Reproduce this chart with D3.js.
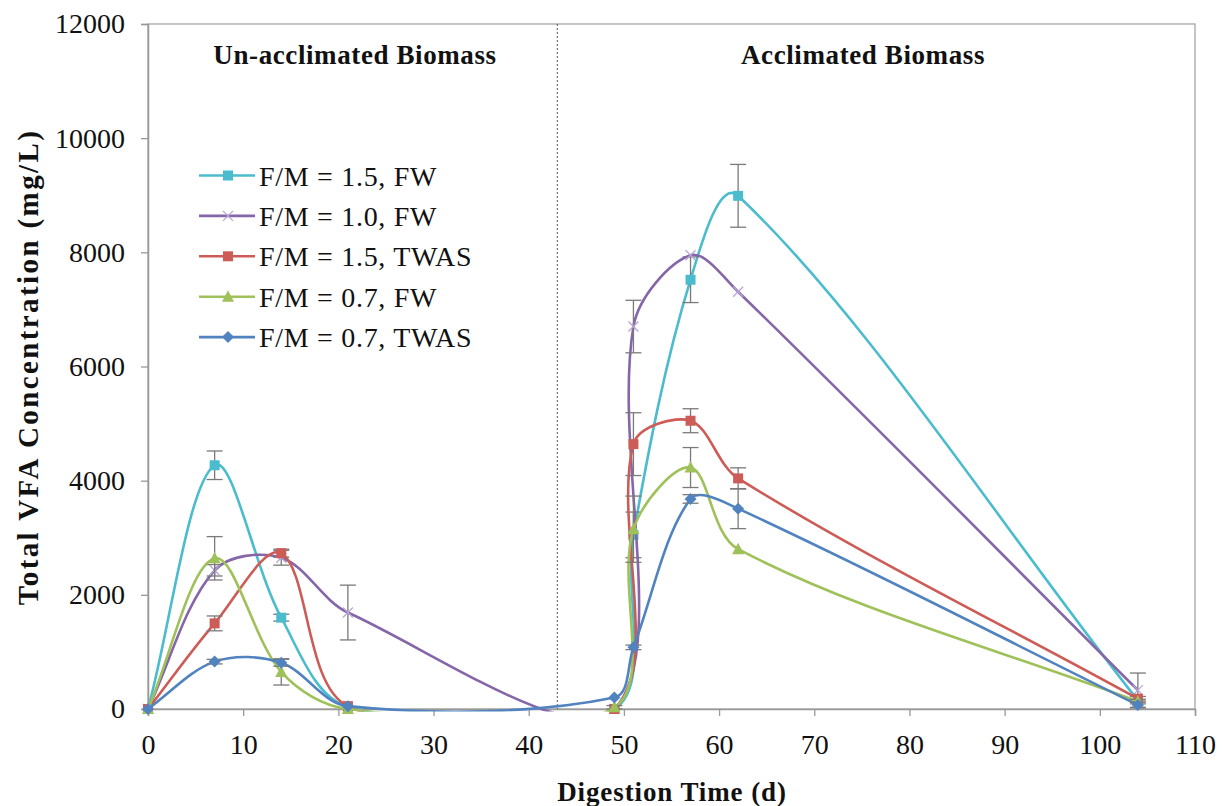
<!DOCTYPE html>
<html>
<head>
<meta charset="utf-8">
<script src="https://cdn.jsdelivr.net/npm/d3@7"></script>
<style>
  html, body { margin: 0; padding: 0; background: #fff; }
  svg { display: block; }
  svg text { font-family: "Liberation Serif", "DejaVu Serif", serif; fill: #111; }
</style>
</head>
<body>
<svg id="chart" width="1222" height="806"></svg>
<script>
// Sampling days (d)
const days = [0, 7, 14, 21, 49, 51, 57, 62, 104];

// Total VFA (mg/L) and standard deviations for each run
const fm15FW      = [0, 4270, 1600, 40, 0, 3050, 7520, 8990, 150];
const fm15FWErr   = [0, 250, 60, 0, 0, 400, 400, 550, 0];
const fm10FW      = [0, 2430, 2650, 1690, 0, 6700, 7950, 7310, 330];
const fm10FWErr   = [0, 100, 130, 480, 0, 460, 0, 0, 300];
const fm15TWAS    = [0, 1500, 2730, 50, 0, 4640, 5050, 4040, 180];
const fm15TWASErr = [0, 130, 70, 0, 0, 550, 210, 185, 40];
const fm07FW      = [0, 2640, 650, 0, 30, 3150, 4230, 2800, 130];
const fm07FWErr   = [0, 380, 230, 0, 30, 580, 350, 0, 40];
const fm07TWAS    = [0, 830, 810, 50, 200, 1080, 3680, 3510, 70];
const fm07TWASErr = [0, 40, 60, 0, 0, 40, 75, 350, 50];

const seriesNames = ["F/M = 1.5, FW", "F/M = 1.0, FW", "F/M = 1.5, TWAS", "F/M = 0.7, FW", "F/M = 0.7, TWAS"];
const xTicks = [0, 10, 20, 30, 40, 50, 60, 70, 80, 90, 100, 110];
const yTicks = [0, 2000, 4000, 6000, 8000, 10000, 12000];
const phaseBoundary = 43;
const phaseTitles = ["Un-acclimated Biomass", "Acclimated Biomass"];

const series = [
  { name: seriesNames[0], y: fm15FW,   e: fm15FWErr,   color: "#4bbccd", mark: "square" },
  { name: seriesNames[1], y: fm10FW,   e: fm10FWErr,   color: "#8566a8", mark: "cross" },
  { name: seriesNames[2], y: fm15TWAS, e: fm15TWASErr, color: "#cd5c57", mark: "square" },
  { name: seriesNames[3], y: fm07FW,   e: fm07FWErr,   color: "#9fc15a", mark: "triangle" },
  { name: seriesNames[4], y: fm07TWAS, e: fm07TWASErr, color: "#5083c0", mark: "diamond" }
];

const svg = d3.select("#chart");
const plotLeft = 148, plotRight = 1195, plotTop = 24, plotBottom = 709;

const x = d3.scaleLinear().domain([0, 110]).range([plotLeft, plotRight]);
const y = d3.scaleLinear().domain([0, 12000]).range([plotBottom, plotTop]);

svg.append("defs").append("clipPath").attr("id", "plotClip")
  .append("rect").attr("x", plotLeft).attr("y", plotTop)
  .attr("width", plotRight - plotLeft).attr("height", plotBottom - plotTop + 2.5);

// plot frame
svg.append("rect")
  .attr("x", plotLeft).attr("y", plotTop)
  .attr("width", plotRight - plotLeft).attr("height", plotBottom - plotTop)
  .attr("fill", "none").attr("stroke", "#a6a6a6").attr("stroke-width", 1.3);

// axes
const xAxis = svg.append("g").attr("transform", `translate(0,${plotBottom})`)
  .call(d3.axisBottom(x).tickValues(xTicks).tickSize(7).tickPadding(18).tickFormat(d3.format("d")));
const yAxis = svg.append("g").attr("transform", `translate(${plotLeft},0)`)
  .call(d3.axisLeft(y).tickValues(yTicks).tickSize(7).tickPadding(16).tickFormat(d3.format("d")));
[xAxis, yAxis].forEach(g => {
  g.attr("font-family", null).attr("font-size", null);
  g.select(".domain").attr("stroke", "#999").attr("stroke-width", 1.5);
  g.selectAll(".tick line").attr("stroke", "#999").attr("stroke-width", 1.3);
  g.selectAll(".tick text").attr("font-size", 28).attr("fill", "#111");
});
xAxis.selectAll(".tick text").attr("dy", "0.71em");

// phase separator
svg.append("line")
  .attr("x1", x(phaseBoundary)).attr("x2", x(phaseBoundary))
  .attr("y1", plotTop).attr("y2", plotBottom)
  .attr("stroke", "#555").attr("stroke-width", 1).attr("stroke-dasharray", "2,2");

// phase titles
svg.append("text").attr("x", 355).attr("y", 64).attr("text-anchor", "middle")
  .attr("font-size", 27).attr("font-weight", "bold").attr("letter-spacing", 0.6).text(phaseTitles[0]);
svg.append("text").attr("x", 863).attr("y", 64).attr("text-anchor", "middle")
  .attr("font-size", 27).attr("font-weight", "bold").attr("letter-spacing", 0.6).text(phaseTitles[1]);

// axis titles
svg.append("text").attr("x", 672).attr("y", 801).attr("text-anchor", "middle")
  .attr("font-size", 27).attr("font-weight", "bold").attr("letter-spacing", 0.9).text("Digestion Time (d)");
svg.append("text").attr("transform", `translate(38,367) rotate(-90)`)
  .attr("text-anchor", "middle").attr("font-size", 29).attr("font-weight", "bold")
  .attr("letter-spacing", 2.4).text("Total VFA Concentration (mg/L)");

// smoothed line: cubic Bezier segments whose handles follow the neighbouring
// points, scaled by the relative chord lengths (spreadsheet-style smoothing)
function smoothPath(pts) {
  const p = d3.path();
  if (!pts.length) return "";
  p.moveTo(pts[0][0], pts[0][1]);
  const dist = (a, b) => Math.hypot(a[0] - b[0], a[1] - b[1]);
  for (let i = 0; i < pts.length - 1; i++) {
    const p0 = pts[i - 1] || pts[i], p1 = pts[i], p2 = pts[i + 1], p3 = pts[i + 2] || pts[i + 1];
    const d01 = dist(p0, p1), d12 = dist(p1, p2), d23 = dist(p2, p3);
    const f1 = d01 + d12 > 0 ? d12 / (d01 + d12) / 3 : 0;
    const f2 = d12 + d23 > 0 ? d12 / (d12 + d23) / 3 : 0;
    p.bezierCurveTo(
      p1[0] + (p2[0] - p0[0]) * f1, p1[1] + (p2[1] - p0[1]) * f1,
      p2[0] - (p3[0] - p1[0]) * f2, p2[1] - (p3[1] - p1[1]) * f2,
      p2[0], p2[1]);
  }
  return p.toString();
}

function drawMarker(g, s, cx, cy) {
  if (s.mark === "square") {
    g.append("rect").attr("x", cx - 5).attr("y", cy - 5).attr("width", 10).attr("height", 10)
      .attr("fill", s.color);
  } else if (s.mark === "triangle") {
    g.append("path").attr("d", `M${cx},${cy - 6.5}L${cx + 6},${cy + 5}L${cx - 6},${cy + 5}Z`)
      .attr("fill", s.color);
  } else if (s.mark === "diamond") {
    g.append("path").attr("d", `M${cx},${cy - 6}L${cx + 6},${cy}L${cx},${cy + 6}L${cx - 6},${cy}Z`)
      .attr("fill", s.color);
  } else {
    g.append("path").attr("d", `M${cx - 5},${cy - 5}L${cx + 5},${cy + 5}M${cx - 5},${cy + 5}L${cx + 5},${cy - 5}`)
      .attr("stroke", "#b7a5d6").attr("stroke-width", 1.3).attr("fill", "none");
  }
}

const plot = svg.append("g");
series.forEach(s => {
  const pts = days.map((d, i) => ({ x: d, y: s.y[i], e: s.e[i] }));
  const g = plot.append("g");
  g.append("path")
    .attr("d", smoothPath(pts.map(d => [x(d.x), y(d.y)])))
    .attr("clip-path", "url(#plotClip)")
    .attr("fill", "none").attr("stroke", s.color).attr("stroke-width", 2.6);
  // error bars
  pts.filter(d => d.e > 0).forEach(d => {
    const cx = x(d.x), y1 = y(d.y + d.e), y2 = y(Math.max(0, d.y - d.e));
    g.append("line").attr("x1", cx).attr("x2", cx).attr("y1", y1).attr("y2", y2)
      .attr("stroke", "#7a7a7a").attr("stroke-width", 1.3);
    [y1, y2].forEach(yy => g.append("line").attr("x1", cx - 8).attr("x2", cx + 8)
      .attr("y1", yy).attr("y2", yy).attr("stroke", "#7a7a7a").attr("stroke-width", 1.3));
  });
  pts.forEach(d => drawMarker(g, s, x(d.x), y(d.y)));
});

// legend
const legend = svg.append("g");
series.forEach((s, i) => {
  const ly = 175.5 + i * 40.4;
  legend.append("line").attr("x1", 199).attr("x2", 255).attr("y1", ly).attr("y2", ly)
    .attr("stroke", s.color).attr("stroke-width", 2.6);
  drawMarker(legend, s, 228, ly);
  legend.append("text").attr("x", 259).attr("y", ly + 10).attr("font-size", 28)
    .attr("letter-spacing", 0.7).text(s.name);
});
</script>
</body>
</html>
